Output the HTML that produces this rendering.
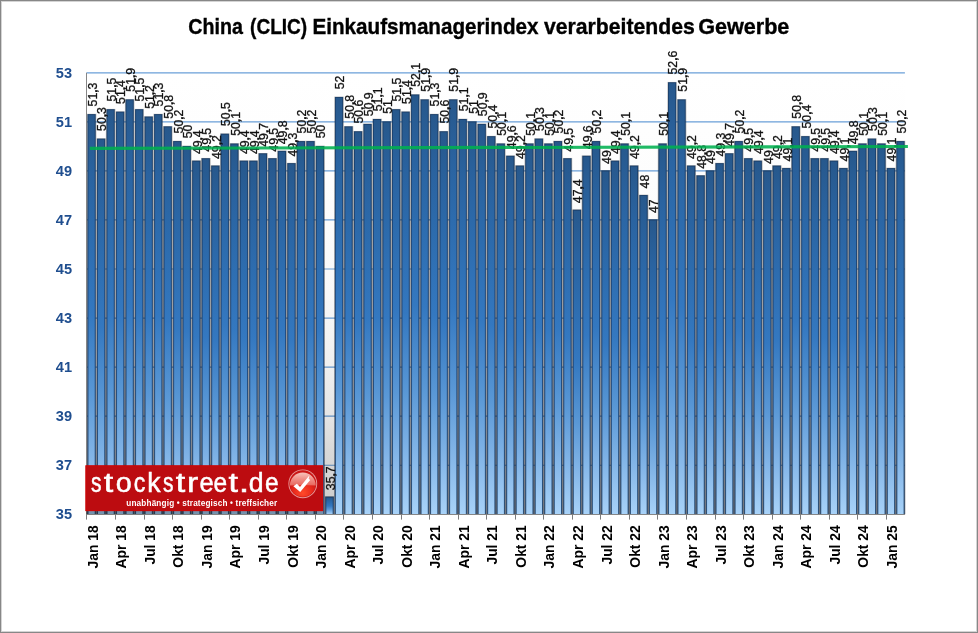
<!DOCTYPE html>
<html><head><meta charset="utf-8"><style>
html,body{margin:0;padding:0;background:#fff}
body{width:978px;height:633px;position:relative;overflow:hidden}
.frame{position:absolute;left:0;top:0;width:976px;height:631px;border:1px solid #878787;box-shadow:inset 0 0 0 1px #d4d4d4}
text{font-family:"Liberation Sans",sans-serif}
.title{font-size:21.3px;font-weight:bold;fill:#000;stroke:#000;stroke-width:0.35px}
.yl{font-size:14.6px;font-weight:bold;fill:#1f4e8f}
.xl{font-size:13.9px;font-weight:bold;fill:#000}
.dl{font-size:12.3px;fill:#111;stroke:#111;stroke-width:0.3px}
.cm{font-weight:bold;font-size:11.8px}
.logo{font-size:27.5px;fill:#fff;stroke:#fff;stroke-width:0.5px}
.sub{font-size:8.2px;font-weight:bold;fill:#fff;letter-spacing:0.16px}
</style></head><body>
<svg width="978" height="633" viewBox="0 0 978 633" style="position:absolute;left:0;top:0">
<defs>
<linearGradient id="bg" x1="0" y1="0" x2="0" y2="1">
<stop offset="0" stop-color="#ffffff"/><stop offset="0.25" stop-color="#fdfdfd"/><stop offset="0.5" stop-color="#f8f8f8"/><stop offset="0.67" stop-color="#efefef"/><stop offset="0.77" stop-color="#e6e6e6"/><stop offset="0.86" stop-color="#d8d8d8"/><stop offset="1" stop-color="#cbcbcb"/></linearGradient>
<linearGradient id="bar" x1="0" y1="0" x2="0" y2="1">
<stop offset="0" stop-color="#27588c"/><stop offset="0.15" stop-color="#2a63a0"/><stop offset="0.3" stop-color="#2d6cae"/><stop offset="0.5" stop-color="#3478c0"/><stop offset="0.7" stop-color="#5a98d6"/><stop offset="0.86" stop-color="#84b6e8"/><stop offset="1" stop-color="#a8d2f8"/></linearGradient>
<linearGradient id="gap" gradientUnits="userSpaceOnUse" x1="0" y1="72" x2="0" y2="514">
<stop offset="0" stop-color="#cacaca"/><stop offset="0.18" stop-color="#a8a8a8"/><stop offset="0.33" stop-color="#8c8c8c"/><stop offset="0.78" stop-color="#6c7078"/><stop offset="1" stop-color="#555a64"/></linearGradient>
<linearGradient id="barE" x1="0" y1="0" x2="0" y2="1">
<stop offset="0" stop-color="#1c416c"/><stop offset="0.5" stop-color="#214c80"/><stop offset="1" stop-color="#2c5078"/></linearGradient>
<radialGradient id="ball" cx="0.5" cy="0.85" r="0.6"><stop offset="0" stop-color="#ff4a2a"/><stop offset="0.6" stop-color="#e82a1c"/><stop offset="1" stop-color="#cc1616"/></radialGradient>
<linearGradient id="gloss" x1="0" y1="0" x2="0" y2="1"><stop offset="0" stop-color="#f7c4bc"/><stop offset="0.5" stop-color="#f09088"/><stop offset="1" stop-color="#e8685e"/></linearGradient>
</defs>
<rect x="86.5" y="72.8" width="818.4" height="441.49999999999994" fill="url(#bg)"/>
<rect x="86.85" y="113.80" width="9.50" height="400.50" fill="url(#gap)"/>
<rect x="96.37" y="138.33" width="9.50" height="375.97" fill="url(#gap)"/>
<rect x="105.88" y="108.89" width="9.50" height="405.41" fill="url(#gap)"/>
<rect x="115.40" y="111.34" width="9.50" height="402.96" fill="url(#gap)"/>
<rect x="124.92" y="99.08" width="9.50" height="415.22" fill="url(#gap)"/>
<rect x="134.43" y="108.89" width="9.50" height="405.41" fill="url(#gap)"/>
<rect x="143.95" y="116.25" width="9.50" height="398.05" fill="url(#gap)"/>
<rect x="153.46" y="113.80" width="9.50" height="400.50" fill="url(#gap)"/>
<rect x="162.98" y="126.06" width="9.50" height="388.24" fill="url(#gap)"/>
<rect x="172.50" y="140.78" width="9.50" height="373.52" fill="url(#gap)"/>
<rect x="182.01" y="145.68" width="9.50" height="368.62" fill="url(#gap)"/>
<rect x="191.53" y="160.40" width="9.50" height="353.90" fill="url(#gap)"/>
<rect x="201.05" y="157.95" width="9.50" height="356.35" fill="url(#gap)"/>
<rect x="210.56" y="165.31" width="9.50" height="348.99" fill="url(#gap)"/>
<rect x="220.08" y="133.42" width="9.50" height="380.88" fill="url(#gap)"/>
<rect x="229.59" y="143.23" width="9.50" height="371.07" fill="url(#gap)"/>
<rect x="239.11" y="160.40" width="9.50" height="353.90" fill="url(#gap)"/>
<rect x="248.63" y="160.40" width="9.50" height="353.90" fill="url(#gap)"/>
<rect x="258.14" y="153.04" width="9.50" height="361.26" fill="url(#gap)"/>
<rect x="267.66" y="157.95" width="9.50" height="356.35" fill="url(#gap)"/>
<rect x="277.18" y="150.59" width="9.50" height="363.71" fill="url(#gap)"/>
<rect x="286.69" y="162.85" width="9.50" height="351.45" fill="url(#gap)"/>
<rect x="296.21" y="140.78" width="9.50" height="373.52" fill="url(#gap)"/>
<rect x="305.72" y="140.78" width="9.50" height="373.52" fill="url(#gap)"/>
<rect x="315.24" y="145.68" width="9.50" height="368.62" fill="url(#gap)"/>
<rect x="324.76" y="496.43" width="9.50" height="17.87" fill="url(#gap)"/>
<rect x="334.27" y="96.63" width="9.50" height="417.67" fill="url(#gap)"/>
<rect x="343.79" y="126.06" width="9.50" height="388.24" fill="url(#gap)"/>
<rect x="353.31" y="130.97" width="9.50" height="383.33" fill="url(#gap)"/>
<rect x="362.82" y="123.61" width="9.50" height="390.69" fill="url(#gap)"/>
<rect x="372.34" y="118.70" width="9.50" height="395.60" fill="url(#gap)"/>
<rect x="381.85" y="121.16" width="9.50" height="393.14" fill="url(#gap)"/>
<rect x="391.37" y="108.89" width="9.50" height="405.41" fill="url(#gap)"/>
<rect x="400.89" y="111.34" width="9.50" height="402.96" fill="url(#gap)"/>
<rect x="410.40" y="94.17" width="9.50" height="420.12" fill="url(#gap)"/>
<rect x="419.92" y="99.08" width="9.50" height="415.22" fill="url(#gap)"/>
<rect x="429.44" y="113.80" width="9.50" height="400.50" fill="url(#gap)"/>
<rect x="438.95" y="130.97" width="9.50" height="383.33" fill="url(#gap)"/>
<rect x="448.47" y="99.08" width="9.50" height="415.22" fill="url(#gap)"/>
<rect x="457.98" y="118.70" width="9.50" height="395.60" fill="url(#gap)"/>
<rect x="467.50" y="121.16" width="9.50" height="393.14" fill="url(#gap)"/>
<rect x="477.02" y="123.61" width="9.50" height="390.69" fill="url(#gap)"/>
<rect x="486.53" y="135.87" width="9.50" height="378.43" fill="url(#gap)"/>
<rect x="496.05" y="143.23" width="9.50" height="371.07" fill="url(#gap)"/>
<rect x="505.57" y="155.49" width="9.50" height="358.81" fill="url(#gap)"/>
<rect x="515.08" y="165.31" width="9.50" height="348.99" fill="url(#gap)"/>
<rect x="524.60" y="143.23" width="9.50" height="371.07" fill="url(#gap)"/>
<rect x="534.12" y="138.33" width="9.50" height="375.97" fill="url(#gap)"/>
<rect x="543.63" y="143.23" width="9.50" height="371.07" fill="url(#gap)"/>
<rect x="553.15" y="140.78" width="9.50" height="373.52" fill="url(#gap)"/>
<rect x="562.66" y="157.95" width="9.50" height="356.35" fill="url(#gap)"/>
<rect x="572.18" y="209.46" width="9.50" height="304.84" fill="url(#gap)"/>
<rect x="581.70" y="155.49" width="9.50" height="358.81" fill="url(#gap)"/>
<rect x="591.21" y="140.78" width="9.50" height="373.52" fill="url(#gap)"/>
<rect x="600.73" y="170.21" width="9.50" height="344.09" fill="url(#gap)"/>
<rect x="610.25" y="160.40" width="9.50" height="353.90" fill="url(#gap)"/>
<rect x="619.76" y="143.23" width="9.50" height="371.07" fill="url(#gap)"/>
<rect x="629.28" y="165.31" width="9.50" height="348.99" fill="url(#gap)"/>
<rect x="638.79" y="194.74" width="9.50" height="319.56" fill="url(#gap)"/>
<rect x="648.31" y="219.27" width="9.50" height="295.03" fill="url(#gap)"/>
<rect x="657.83" y="143.23" width="9.50" height="371.07" fill="url(#gap)"/>
<rect x="667.34" y="81.91" width="9.50" height="432.39" fill="url(#gap)"/>
<rect x="676.86" y="99.08" width="9.50" height="415.22" fill="url(#gap)"/>
<rect x="686.38" y="165.31" width="9.50" height="348.99" fill="url(#gap)"/>
<rect x="695.89" y="175.12" width="9.50" height="339.18" fill="url(#gap)"/>
<rect x="705.41" y="170.21" width="9.50" height="344.09" fill="url(#gap)"/>
<rect x="714.92" y="162.85" width="9.50" height="351.45" fill="url(#gap)"/>
<rect x="724.44" y="153.04" width="9.50" height="361.26" fill="url(#gap)"/>
<rect x="733.96" y="140.78" width="9.50" height="373.52" fill="url(#gap)"/>
<rect x="743.47" y="157.95" width="9.50" height="356.35" fill="url(#gap)"/>
<rect x="752.99" y="160.40" width="9.50" height="353.90" fill="url(#gap)"/>
<rect x="762.51" y="170.21" width="9.50" height="344.09" fill="url(#gap)"/>
<rect x="772.02" y="165.31" width="9.50" height="348.99" fill="url(#gap)"/>
<rect x="781.54" y="167.76" width="9.50" height="346.54" fill="url(#gap)"/>
<rect x="791.05" y="126.06" width="9.50" height="388.24" fill="url(#gap)"/>
<rect x="800.57" y="135.87" width="9.50" height="378.43" fill="url(#gap)"/>
<rect x="810.09" y="157.95" width="9.50" height="356.35" fill="url(#gap)"/>
<rect x="819.60" y="157.95" width="9.50" height="356.35" fill="url(#gap)"/>
<rect x="829.12" y="160.40" width="9.50" height="353.90" fill="url(#gap)"/>
<rect x="838.64" y="167.76" width="9.50" height="346.54" fill="url(#gap)"/>
<rect x="848.15" y="150.59" width="9.50" height="363.71" fill="url(#gap)"/>
<rect x="857.67" y="143.23" width="9.50" height="371.07" fill="url(#gap)"/>
<rect x="867.18" y="138.33" width="9.50" height="375.97" fill="url(#gap)"/>
<rect x="876.70" y="143.23" width="9.50" height="371.07" fill="url(#gap)"/>
<rect x="886.22" y="167.76" width="9.50" height="346.54" fill="url(#gap)"/>
<rect x="895.73" y="140.78" width="9.50" height="373.52" fill="url(#gap)"/>
<line x1="86.5" y1="465.24" x2="904.9" y2="465.24" stroke="#6a9fd8" stroke-width="1.2" style="mix-blend-mode:multiply"/>
<line x1="86.5" y1="416.19" x2="904.9" y2="416.19" stroke="#6a9fd8" stroke-width="1.2" style="mix-blend-mode:multiply"/>
<line x1="86.5" y1="367.13" x2="904.9" y2="367.13" stroke="#6a9fd8" stroke-width="1.2" style="mix-blend-mode:multiply"/>
<line x1="86.5" y1="318.08" x2="904.9" y2="318.08" stroke="#6a9fd8" stroke-width="1.2" style="mix-blend-mode:multiply"/>
<line x1="86.5" y1="269.02" x2="904.9" y2="269.02" stroke="#6a9fd8" stroke-width="1.2" style="mix-blend-mode:multiply"/>
<line x1="86.5" y1="219.97" x2="904.9" y2="219.97" stroke="#6a9fd8" stroke-width="1.2" style="mix-blend-mode:multiply"/>
<line x1="86.5" y1="170.91" x2="904.9" y2="170.91" stroke="#6a9fd8" stroke-width="1.2" style="mix-blend-mode:multiply"/>
<line x1="86.5" y1="121.86" x2="904.9" y2="121.86" stroke="#6a9fd8" stroke-width="1.2" style="mix-blend-mode:multiply"/>
<line x1="86.5" y1="72.80" x2="904.9" y2="72.80" stroke="#6a9fd8" stroke-width="1.2" style="mix-blend-mode:multiply"/>
<rect x="87.50" y="114.10" width="8.20" height="400.20" fill="url(#barE)"/>
<rect x="88.50" y="115.10" width="6.20" height="399.20" fill="url(#bar)"/>
<rect x="97.02" y="138.63" width="8.20" height="375.67" fill="url(#barE)"/>
<rect x="98.02" y="139.63" width="6.20" height="374.67" fill="url(#bar)"/>
<rect x="106.53" y="109.19" width="8.20" height="405.11" fill="url(#barE)"/>
<rect x="107.53" y="110.19" width="6.20" height="404.11" fill="url(#bar)"/>
<rect x="116.05" y="111.64" width="8.20" height="402.66" fill="url(#barE)"/>
<rect x="117.05" y="112.64" width="6.20" height="401.66" fill="url(#bar)"/>
<rect x="125.57" y="99.38" width="8.20" height="414.92" fill="url(#barE)"/>
<rect x="126.57" y="100.38" width="6.20" height="413.92" fill="url(#bar)"/>
<rect x="135.08" y="109.19" width="8.20" height="405.11" fill="url(#barE)"/>
<rect x="136.08" y="110.19" width="6.20" height="404.11" fill="url(#bar)"/>
<rect x="144.60" y="116.55" width="8.20" height="397.75" fill="url(#barE)"/>
<rect x="145.60" y="117.55" width="6.20" height="396.75" fill="url(#bar)"/>
<rect x="154.11" y="114.10" width="8.20" height="400.20" fill="url(#barE)"/>
<rect x="155.11" y="115.10" width="6.20" height="399.20" fill="url(#bar)"/>
<rect x="163.63" y="126.36" width="8.20" height="387.94" fill="url(#barE)"/>
<rect x="164.63" y="127.36" width="6.20" height="386.94" fill="url(#bar)"/>
<rect x="173.15" y="141.08" width="8.20" height="373.22" fill="url(#barE)"/>
<rect x="174.15" y="142.08" width="6.20" height="372.22" fill="url(#bar)"/>
<rect x="182.66" y="145.98" width="8.20" height="368.32" fill="url(#barE)"/>
<rect x="183.66" y="146.98" width="6.20" height="367.32" fill="url(#bar)"/>
<rect x="192.18" y="160.70" width="8.20" height="353.60" fill="url(#barE)"/>
<rect x="193.18" y="161.70" width="6.20" height="352.60" fill="url(#bar)"/>
<rect x="201.70" y="158.25" width="8.20" height="356.05" fill="url(#barE)"/>
<rect x="202.70" y="159.25" width="6.20" height="355.05" fill="url(#bar)"/>
<rect x="211.21" y="165.61" width="8.20" height="348.69" fill="url(#barE)"/>
<rect x="212.21" y="166.61" width="6.20" height="347.69" fill="url(#bar)"/>
<rect x="220.73" y="133.72" width="8.20" height="380.58" fill="url(#barE)"/>
<rect x="221.73" y="134.72" width="6.20" height="379.58" fill="url(#bar)"/>
<rect x="230.24" y="143.53" width="8.20" height="370.77" fill="url(#barE)"/>
<rect x="231.24" y="144.53" width="6.20" height="369.77" fill="url(#bar)"/>
<rect x="239.76" y="160.70" width="8.20" height="353.60" fill="url(#barE)"/>
<rect x="240.76" y="161.70" width="6.20" height="352.60" fill="url(#bar)"/>
<rect x="249.28" y="160.70" width="8.20" height="353.60" fill="url(#barE)"/>
<rect x="250.28" y="161.70" width="6.20" height="352.60" fill="url(#bar)"/>
<rect x="258.79" y="153.34" width="8.20" height="360.96" fill="url(#barE)"/>
<rect x="259.79" y="154.34" width="6.20" height="359.96" fill="url(#bar)"/>
<rect x="268.31" y="158.25" width="8.20" height="356.05" fill="url(#barE)"/>
<rect x="269.31" y="159.25" width="6.20" height="355.05" fill="url(#bar)"/>
<rect x="277.83" y="150.89" width="8.20" height="363.41" fill="url(#barE)"/>
<rect x="278.83" y="151.89" width="6.20" height="362.41" fill="url(#bar)"/>
<rect x="287.34" y="163.15" width="8.20" height="351.15" fill="url(#barE)"/>
<rect x="288.34" y="164.15" width="6.20" height="350.15" fill="url(#bar)"/>
<rect x="296.86" y="141.08" width="8.20" height="373.22" fill="url(#barE)"/>
<rect x="297.86" y="142.08" width="6.20" height="372.22" fill="url(#bar)"/>
<rect x="306.37" y="141.08" width="8.20" height="373.22" fill="url(#barE)"/>
<rect x="307.37" y="142.08" width="6.20" height="372.22" fill="url(#bar)"/>
<rect x="315.89" y="145.98" width="8.20" height="368.32" fill="url(#barE)"/>
<rect x="316.89" y="146.98" width="6.20" height="367.32" fill="url(#bar)"/>
<rect x="325.41" y="496.73" width="8.20" height="17.57" fill="url(#barE)"/>
<rect x="326.41" y="497.73" width="6.20" height="16.57" fill="url(#bar)"/>
<rect x="334.92" y="96.93" width="8.20" height="417.37" fill="url(#barE)"/>
<rect x="335.92" y="97.93" width="6.20" height="416.37" fill="url(#bar)"/>
<rect x="344.44" y="126.36" width="8.20" height="387.94" fill="url(#barE)"/>
<rect x="345.44" y="127.36" width="6.20" height="386.94" fill="url(#bar)"/>
<rect x="353.96" y="131.27" width="8.20" height="383.03" fill="url(#barE)"/>
<rect x="354.96" y="132.27" width="6.20" height="382.03" fill="url(#bar)"/>
<rect x="363.47" y="123.91" width="8.20" height="390.39" fill="url(#barE)"/>
<rect x="364.47" y="124.91" width="6.20" height="389.39" fill="url(#bar)"/>
<rect x="372.99" y="119.00" width="8.20" height="395.30" fill="url(#barE)"/>
<rect x="373.99" y="120.00" width="6.20" height="394.30" fill="url(#bar)"/>
<rect x="382.50" y="121.46" width="8.20" height="392.84" fill="url(#barE)"/>
<rect x="383.50" y="122.46" width="6.20" height="391.84" fill="url(#bar)"/>
<rect x="392.02" y="109.19" width="8.20" height="405.11" fill="url(#barE)"/>
<rect x="393.02" y="110.19" width="6.20" height="404.11" fill="url(#bar)"/>
<rect x="401.54" y="111.64" width="8.20" height="402.66" fill="url(#barE)"/>
<rect x="402.54" y="112.64" width="6.20" height="401.66" fill="url(#bar)"/>
<rect x="411.05" y="94.47" width="8.20" height="419.82" fill="url(#barE)"/>
<rect x="412.05" y="95.47" width="6.20" height="418.82" fill="url(#bar)"/>
<rect x="420.57" y="99.38" width="8.20" height="414.92" fill="url(#barE)"/>
<rect x="421.57" y="100.38" width="6.20" height="413.92" fill="url(#bar)"/>
<rect x="430.09" y="114.10" width="8.20" height="400.20" fill="url(#barE)"/>
<rect x="431.09" y="115.10" width="6.20" height="399.20" fill="url(#bar)"/>
<rect x="439.60" y="131.27" width="8.20" height="383.03" fill="url(#barE)"/>
<rect x="440.60" y="132.27" width="6.20" height="382.03" fill="url(#bar)"/>
<rect x="449.12" y="99.38" width="8.20" height="414.92" fill="url(#barE)"/>
<rect x="450.12" y="100.38" width="6.20" height="413.92" fill="url(#bar)"/>
<rect x="458.63" y="119.00" width="8.20" height="395.30" fill="url(#barE)"/>
<rect x="459.63" y="120.00" width="6.20" height="394.30" fill="url(#bar)"/>
<rect x="468.15" y="121.46" width="8.20" height="392.84" fill="url(#barE)"/>
<rect x="469.15" y="122.46" width="6.20" height="391.84" fill="url(#bar)"/>
<rect x="477.67" y="123.91" width="8.20" height="390.39" fill="url(#barE)"/>
<rect x="478.67" y="124.91" width="6.20" height="389.39" fill="url(#bar)"/>
<rect x="487.18" y="136.17" width="8.20" height="378.13" fill="url(#barE)"/>
<rect x="488.18" y="137.17" width="6.20" height="377.13" fill="url(#bar)"/>
<rect x="496.70" y="143.53" width="8.20" height="370.77" fill="url(#barE)"/>
<rect x="497.70" y="144.53" width="6.20" height="369.77" fill="url(#bar)"/>
<rect x="506.22" y="155.79" width="8.20" height="358.51" fill="url(#barE)"/>
<rect x="507.22" y="156.79" width="6.20" height="357.51" fill="url(#bar)"/>
<rect x="515.73" y="165.61" width="8.20" height="348.69" fill="url(#barE)"/>
<rect x="516.73" y="166.61" width="6.20" height="347.69" fill="url(#bar)"/>
<rect x="525.25" y="143.53" width="8.20" height="370.77" fill="url(#barE)"/>
<rect x="526.25" y="144.53" width="6.20" height="369.77" fill="url(#bar)"/>
<rect x="534.77" y="138.63" width="8.20" height="375.67" fill="url(#barE)"/>
<rect x="535.77" y="139.63" width="6.20" height="374.67" fill="url(#bar)"/>
<rect x="544.28" y="143.53" width="8.20" height="370.77" fill="url(#barE)"/>
<rect x="545.28" y="144.53" width="6.20" height="369.77" fill="url(#bar)"/>
<rect x="553.80" y="141.08" width="8.20" height="373.22" fill="url(#barE)"/>
<rect x="554.80" y="142.08" width="6.20" height="372.22" fill="url(#bar)"/>
<rect x="563.31" y="158.25" width="8.20" height="356.05" fill="url(#barE)"/>
<rect x="564.31" y="159.25" width="6.20" height="355.05" fill="url(#bar)"/>
<rect x="572.83" y="209.76" width="8.20" height="304.54" fill="url(#barE)"/>
<rect x="573.83" y="210.76" width="6.20" height="303.54" fill="url(#bar)"/>
<rect x="582.35" y="155.79" width="8.20" height="358.51" fill="url(#barE)"/>
<rect x="583.35" y="156.79" width="6.20" height="357.51" fill="url(#bar)"/>
<rect x="591.86" y="141.08" width="8.20" height="373.22" fill="url(#barE)"/>
<rect x="592.86" y="142.08" width="6.20" height="372.22" fill="url(#bar)"/>
<rect x="601.38" y="170.51" width="8.20" height="343.79" fill="url(#barE)"/>
<rect x="602.38" y="171.51" width="6.20" height="342.79" fill="url(#bar)"/>
<rect x="610.90" y="160.70" width="8.20" height="353.60" fill="url(#barE)"/>
<rect x="611.90" y="161.70" width="6.20" height="352.60" fill="url(#bar)"/>
<rect x="620.41" y="143.53" width="8.20" height="370.77" fill="url(#barE)"/>
<rect x="621.41" y="144.53" width="6.20" height="369.77" fill="url(#bar)"/>
<rect x="629.93" y="165.61" width="8.20" height="348.69" fill="url(#barE)"/>
<rect x="630.93" y="166.61" width="6.20" height="347.69" fill="url(#bar)"/>
<rect x="639.44" y="195.04" width="8.20" height="319.26" fill="url(#barE)"/>
<rect x="640.44" y="196.04" width="6.20" height="318.26" fill="url(#bar)"/>
<rect x="648.96" y="219.57" width="8.20" height="294.73" fill="url(#barE)"/>
<rect x="649.96" y="220.57" width="6.20" height="293.73" fill="url(#bar)"/>
<rect x="658.48" y="143.53" width="8.20" height="370.77" fill="url(#barE)"/>
<rect x="659.48" y="144.53" width="6.20" height="369.77" fill="url(#bar)"/>
<rect x="667.99" y="82.21" width="8.20" height="432.09" fill="url(#barE)"/>
<rect x="668.99" y="83.21" width="6.20" height="431.09" fill="url(#bar)"/>
<rect x="677.51" y="99.38" width="8.20" height="414.92" fill="url(#barE)"/>
<rect x="678.51" y="100.38" width="6.20" height="413.92" fill="url(#bar)"/>
<rect x="687.03" y="165.61" width="8.20" height="348.69" fill="url(#barE)"/>
<rect x="688.03" y="166.61" width="6.20" height="347.69" fill="url(#bar)"/>
<rect x="696.54" y="175.42" width="8.20" height="338.88" fill="url(#barE)"/>
<rect x="697.54" y="176.42" width="6.20" height="337.88" fill="url(#bar)"/>
<rect x="706.06" y="170.51" width="8.20" height="343.79" fill="url(#barE)"/>
<rect x="707.06" y="171.51" width="6.20" height="342.79" fill="url(#bar)"/>
<rect x="715.57" y="163.15" width="8.20" height="351.15" fill="url(#barE)"/>
<rect x="716.57" y="164.15" width="6.20" height="350.15" fill="url(#bar)"/>
<rect x="725.09" y="153.34" width="8.20" height="360.96" fill="url(#barE)"/>
<rect x="726.09" y="154.34" width="6.20" height="359.96" fill="url(#bar)"/>
<rect x="734.61" y="141.08" width="8.20" height="373.22" fill="url(#barE)"/>
<rect x="735.61" y="142.08" width="6.20" height="372.22" fill="url(#bar)"/>
<rect x="744.12" y="158.25" width="8.20" height="356.05" fill="url(#barE)"/>
<rect x="745.12" y="159.25" width="6.20" height="355.05" fill="url(#bar)"/>
<rect x="753.64" y="160.70" width="8.20" height="353.60" fill="url(#barE)"/>
<rect x="754.64" y="161.70" width="6.20" height="352.60" fill="url(#bar)"/>
<rect x="763.16" y="170.51" width="8.20" height="343.79" fill="url(#barE)"/>
<rect x="764.16" y="171.51" width="6.20" height="342.79" fill="url(#bar)"/>
<rect x="772.67" y="165.61" width="8.20" height="348.69" fill="url(#barE)"/>
<rect x="773.67" y="166.61" width="6.20" height="347.69" fill="url(#bar)"/>
<rect x="782.19" y="168.06" width="8.20" height="346.24" fill="url(#barE)"/>
<rect x="783.19" y="169.06" width="6.20" height="345.24" fill="url(#bar)"/>
<rect x="791.70" y="126.36" width="8.20" height="387.94" fill="url(#barE)"/>
<rect x="792.70" y="127.36" width="6.20" height="386.94" fill="url(#bar)"/>
<rect x="801.22" y="136.17" width="8.20" height="378.13" fill="url(#barE)"/>
<rect x="802.22" y="137.17" width="6.20" height="377.13" fill="url(#bar)"/>
<rect x="810.74" y="158.25" width="8.20" height="356.05" fill="url(#barE)"/>
<rect x="811.74" y="159.25" width="6.20" height="355.05" fill="url(#bar)"/>
<rect x="820.25" y="158.25" width="8.20" height="356.05" fill="url(#barE)"/>
<rect x="821.25" y="159.25" width="6.20" height="355.05" fill="url(#bar)"/>
<rect x="829.77" y="160.70" width="8.20" height="353.60" fill="url(#barE)"/>
<rect x="830.77" y="161.70" width="6.20" height="352.60" fill="url(#bar)"/>
<rect x="839.29" y="168.06" width="8.20" height="346.24" fill="url(#barE)"/>
<rect x="840.29" y="169.06" width="6.20" height="345.24" fill="url(#bar)"/>
<rect x="848.80" y="150.89" width="8.20" height="363.41" fill="url(#barE)"/>
<rect x="849.80" y="151.89" width="6.20" height="362.41" fill="url(#bar)"/>
<rect x="858.32" y="143.53" width="8.20" height="370.77" fill="url(#barE)"/>
<rect x="859.32" y="144.53" width="6.20" height="369.77" fill="url(#bar)"/>
<rect x="867.83" y="138.63" width="8.20" height="375.67" fill="url(#barE)"/>
<rect x="868.83" y="139.63" width="6.20" height="374.67" fill="url(#bar)"/>
<rect x="877.35" y="143.53" width="8.20" height="370.77" fill="url(#barE)"/>
<rect x="878.35" y="144.53" width="6.20" height="369.77" fill="url(#bar)"/>
<rect x="886.87" y="168.06" width="8.20" height="346.24" fill="url(#barE)"/>
<rect x="887.87" y="169.06" width="6.20" height="345.24" fill="url(#bar)"/>
<rect x="896.38" y="141.08" width="8.20" height="373.22" fill="url(#barE)"/>
<rect x="897.38" y="142.08" width="6.20" height="372.22" fill="url(#bar)"/>
<line x1="86.5" y1="72.8" x2="86.5" y2="514.3" stroke="#868686" stroke-width="1"/>
<line x1="86.0" y1="514.5" x2="904.9" y2="514.5" stroke="#868686" stroke-width="1"/>
<line x1="86.50" y1="514" x2="86.50" y2="519.6" stroke="#7c7c7c" stroke-width="1"/>
<line x1="115.50" y1="514" x2="115.50" y2="519.6" stroke="#7c7c7c" stroke-width="1"/>
<line x1="144.50" y1="514" x2="144.50" y2="519.6" stroke="#7c7c7c" stroke-width="1"/>
<line x1="172.50" y1="514" x2="172.50" y2="519.6" stroke="#7c7c7c" stroke-width="1"/>
<line x1="201.50" y1="514" x2="201.50" y2="519.6" stroke="#7c7c7c" stroke-width="1"/>
<line x1="229.50" y1="514" x2="229.50" y2="519.6" stroke="#7c7c7c" stroke-width="1"/>
<line x1="258.50" y1="514" x2="258.50" y2="519.6" stroke="#7c7c7c" stroke-width="1"/>
<line x1="286.50" y1="514" x2="286.50" y2="519.6" stroke="#7c7c7c" stroke-width="1"/>
<line x1="315.50" y1="514" x2="315.50" y2="519.6" stroke="#7c7c7c" stroke-width="1"/>
<line x1="343.50" y1="514" x2="343.50" y2="519.6" stroke="#7c7c7c" stroke-width="1"/>
<line x1="372.50" y1="514" x2="372.50" y2="519.6" stroke="#7c7c7c" stroke-width="1"/>
<line x1="401.50" y1="514" x2="401.50" y2="519.6" stroke="#7c7c7c" stroke-width="1"/>
<line x1="429.50" y1="514" x2="429.50" y2="519.6" stroke="#7c7c7c" stroke-width="1"/>
<line x1="458.50" y1="514" x2="458.50" y2="519.6" stroke="#7c7c7c" stroke-width="1"/>
<line x1="486.50" y1="514" x2="486.50" y2="519.6" stroke="#7c7c7c" stroke-width="1"/>
<line x1="515.50" y1="514" x2="515.50" y2="519.6" stroke="#7c7c7c" stroke-width="1"/>
<line x1="543.50" y1="514" x2="543.50" y2="519.6" stroke="#7c7c7c" stroke-width="1"/>
<line x1="572.50" y1="514" x2="572.50" y2="519.6" stroke="#7c7c7c" stroke-width="1"/>
<line x1="600.50" y1="514" x2="600.50" y2="519.6" stroke="#7c7c7c" stroke-width="1"/>
<line x1="629.50" y1="514" x2="629.50" y2="519.6" stroke="#7c7c7c" stroke-width="1"/>
<line x1="657.50" y1="514" x2="657.50" y2="519.6" stroke="#7c7c7c" stroke-width="1"/>
<line x1="686.50" y1="514" x2="686.50" y2="519.6" stroke="#7c7c7c" stroke-width="1"/>
<line x1="715.50" y1="514" x2="715.50" y2="519.6" stroke="#7c7c7c" stroke-width="1"/>
<line x1="743.50" y1="514" x2="743.50" y2="519.6" stroke="#7c7c7c" stroke-width="1"/>
<line x1="772.50" y1="514" x2="772.50" y2="519.6" stroke="#7c7c7c" stroke-width="1"/>
<line x1="800.50" y1="514" x2="800.50" y2="519.6" stroke="#7c7c7c" stroke-width="1"/>
<line x1="829.50" y1="514" x2="829.50" y2="519.6" stroke="#7c7c7c" stroke-width="1"/>
<line x1="857.50" y1="514" x2="857.50" y2="519.6" stroke="#7c7c7c" stroke-width="1"/>
<line x1="886.50" y1="514" x2="886.50" y2="519.6" stroke="#7c7c7c" stroke-width="1"/>
<text x="72.1" y="519.30" text-anchor="end" class="yl">35</text>
<text x="72.1" y="470.24" text-anchor="end" class="yl">37</text>
<text x="72.1" y="421.19" text-anchor="end" class="yl">39</text>
<text x="72.1" y="372.13" text-anchor="end" class="yl">41</text>
<text x="72.1" y="323.08" text-anchor="end" class="yl">43</text>
<text x="72.1" y="274.02" text-anchor="end" class="yl">45</text>
<text x="72.1" y="224.97" text-anchor="end" class="yl">47</text>
<text x="72.1" y="175.91" text-anchor="end" class="yl">49</text>
<text x="72.1" y="126.86" text-anchor="end" class="yl">51</text>
<text x="72.1" y="77.80" text-anchor="end" class="yl">53</text>
<text transform="translate(97.66,525.2) rotate(-90)" text-anchor="end" class="xl">Jan 18</text>
<text transform="translate(126.21,525.2) rotate(-90)" text-anchor="end" class="xl">Apr 18</text>
<text transform="translate(154.76,525.2) rotate(-90)" text-anchor="end" class="xl">Jul 18</text>
<text transform="translate(183.30,525.2) rotate(-90)" text-anchor="end" class="xl">Okt 18</text>
<text transform="translate(211.85,525.2) rotate(-90)" text-anchor="end" class="xl">Jan 19</text>
<text transform="translate(240.40,525.2) rotate(-90)" text-anchor="end" class="xl">Apr 19</text>
<text transform="translate(268.95,525.2) rotate(-90)" text-anchor="end" class="xl">Jul 19</text>
<text transform="translate(297.50,525.2) rotate(-90)" text-anchor="end" class="xl">Okt 19</text>
<text transform="translate(326.05,525.2) rotate(-90)" text-anchor="end" class="xl">Jan 20</text>
<text transform="translate(354.60,525.2) rotate(-90)" text-anchor="end" class="xl">Apr 20</text>
<text transform="translate(383.15,525.2) rotate(-90)" text-anchor="end" class="xl">Jul 20</text>
<text transform="translate(411.70,525.2) rotate(-90)" text-anchor="end" class="xl">Okt 20</text>
<text transform="translate(440.24,525.2) rotate(-90)" text-anchor="end" class="xl">Jan 21</text>
<text transform="translate(468.79,525.2) rotate(-90)" text-anchor="end" class="xl">Apr 21</text>
<text transform="translate(497.34,525.2) rotate(-90)" text-anchor="end" class="xl">Jul 21</text>
<text transform="translate(525.89,525.2) rotate(-90)" text-anchor="end" class="xl">Okt 21</text>
<text transform="translate(554.44,525.2) rotate(-90)" text-anchor="end" class="xl">Jan 22</text>
<text transform="translate(582.99,525.2) rotate(-90)" text-anchor="end" class="xl">Apr 22</text>
<text transform="translate(611.54,525.2) rotate(-90)" text-anchor="end" class="xl">Jul 22</text>
<text transform="translate(640.09,525.2) rotate(-90)" text-anchor="end" class="xl">Okt 22</text>
<text transform="translate(668.63,525.2) rotate(-90)" text-anchor="end" class="xl">Jan 23</text>
<text transform="translate(697.18,525.2) rotate(-90)" text-anchor="end" class="xl">Apr 23</text>
<text transform="translate(725.73,525.2) rotate(-90)" text-anchor="end" class="xl">Jul 23</text>
<text transform="translate(754.28,525.2) rotate(-90)" text-anchor="end" class="xl">Okt 23</text>
<text transform="translate(782.83,525.2) rotate(-90)" text-anchor="end" class="xl">Jan 24</text>
<text transform="translate(811.38,525.2) rotate(-90)" text-anchor="end" class="xl">Apr 24</text>
<text transform="translate(839.93,525.2) rotate(-90)" text-anchor="end" class="xl">Jul 24</text>
<text transform="translate(868.48,525.2) rotate(-90)" text-anchor="end" class="xl">Okt 24</text>
<text transform="translate(897.03,525.2) rotate(-90)" text-anchor="end" class="xl">Jan 25</text>
<text transform="translate(96.86,106.40) rotate(-90)" class="dl">51<tspan class="cm">,</tspan>3</text>
<text transform="translate(106.37,130.93) rotate(-90)" class="dl">50<tspan class="cm">,</tspan>3</text>
<text transform="translate(115.89,101.49) rotate(-90)" class="dl">51<tspan class="cm">,</tspan>5</text>
<text transform="translate(125.41,103.94) rotate(-90)" class="dl">51<tspan class="cm">,</tspan>4</text>
<text transform="translate(134.92,91.68) rotate(-90)" class="dl">51<tspan class="cm">,</tspan>9</text>
<text transform="translate(144.44,101.49) rotate(-90)" class="dl">51<tspan class="cm">,</tspan>5</text>
<text transform="translate(153.96,108.85) rotate(-90)" class="dl">51<tspan class="cm">,</tspan>2</text>
<text transform="translate(163.47,106.40) rotate(-90)" class="dl">51<tspan class="cm">,</tspan>3</text>
<text transform="translate(172.99,118.66) rotate(-90)" class="dl">50<tspan class="cm">,</tspan>8</text>
<text transform="translate(182.50,133.38) rotate(-90)" class="dl">50<tspan class="cm">,</tspan>2</text>
<text transform="translate(192.02,138.28) rotate(-90)" class="dl">50</text>
<text transform="translate(201.54,154.10) rotate(-90)" class="dl">49<tspan class="cm">,</tspan>4</text>
<text transform="translate(211.05,151.65) rotate(-90)" class="dl">49<tspan class="cm">,</tspan>5</text>
<text transform="translate(220.57,159.01) rotate(-90)" class="dl">49<tspan class="cm">,</tspan>2</text>
<text transform="translate(230.09,126.02) rotate(-90)" class="dl">50<tspan class="cm">,</tspan>5</text>
<text transform="translate(239.60,135.83) rotate(-90)" class="dl">50<tspan class="cm">,</tspan>1</text>
<text transform="translate(249.12,154.10) rotate(-90)" class="dl">49<tspan class="cm">,</tspan>4</text>
<text transform="translate(258.63,154.10) rotate(-90)" class="dl">49<tspan class="cm">,</tspan>4</text>
<text transform="translate(268.15,146.74) rotate(-90)" class="dl">49<tspan class="cm">,</tspan>7</text>
<text transform="translate(277.67,151.65) rotate(-90)" class="dl">49<tspan class="cm">,</tspan>5</text>
<text transform="translate(287.18,144.29) rotate(-90)" class="dl">49<tspan class="cm">,</tspan>8</text>
<text transform="translate(296.70,156.55) rotate(-90)" class="dl">49<tspan class="cm">,</tspan>3</text>
<text transform="translate(306.22,133.38) rotate(-90)" class="dl">50<tspan class="cm">,</tspan>2</text>
<text transform="translate(315.73,133.38) rotate(-90)" class="dl">50<tspan class="cm">,</tspan>2</text>
<text transform="translate(325.25,138.28) rotate(-90)" class="dl">50</text>
<text transform="translate(334.77,490.13) rotate(-90)" class="dl">35<tspan class="cm">,</tspan>7</text>
<text transform="translate(344.28,89.23) rotate(-90)" class="dl">52</text>
<text transform="translate(353.80,118.66) rotate(-90)" class="dl">50<tspan class="cm">,</tspan>8</text>
<text transform="translate(363.31,123.57) rotate(-90)" class="dl">50<tspan class="cm">,</tspan>6</text>
<text transform="translate(372.83,116.21) rotate(-90)" class="dl">50<tspan class="cm">,</tspan>9</text>
<text transform="translate(382.35,111.30) rotate(-90)" class="dl">51<tspan class="cm">,</tspan>1</text>
<text transform="translate(391.86,113.76) rotate(-90)" class="dl">51</text>
<text transform="translate(401.38,101.49) rotate(-90)" class="dl">51<tspan class="cm">,</tspan>5</text>
<text transform="translate(410.90,103.94) rotate(-90)" class="dl">51<tspan class="cm">,</tspan>4</text>
<text transform="translate(420.41,86.77) rotate(-90)" class="dl">52<tspan class="cm">,</tspan>1</text>
<text transform="translate(429.93,91.68) rotate(-90)" class="dl">51<tspan class="cm">,</tspan>9</text>
<text transform="translate(439.44,106.40) rotate(-90)" class="dl">51<tspan class="cm">,</tspan>3</text>
<text transform="translate(448.96,123.57) rotate(-90)" class="dl">50<tspan class="cm">,</tspan>6</text>
<text transform="translate(458.48,91.68) rotate(-90)" class="dl">51<tspan class="cm">,</tspan>9</text>
<text transform="translate(467.99,111.30) rotate(-90)" class="dl">51<tspan class="cm">,</tspan>1</text>
<text transform="translate(477.51,113.76) rotate(-90)" class="dl">51</text>
<text transform="translate(487.03,116.21) rotate(-90)" class="dl">50<tspan class="cm">,</tspan>9</text>
<text transform="translate(496.54,128.47) rotate(-90)" class="dl">50<tspan class="cm">,</tspan>4</text>
<text transform="translate(506.06,135.83) rotate(-90)" class="dl">50<tspan class="cm">,</tspan>1</text>
<text transform="translate(515.57,149.19) rotate(-90)" class="dl">49<tspan class="cm">,</tspan>6</text>
<text transform="translate(525.09,159.01) rotate(-90)" class="dl">49<tspan class="cm">,</tspan>2</text>
<text transform="translate(534.61,135.83) rotate(-90)" class="dl">50<tspan class="cm">,</tspan>1</text>
<text transform="translate(544.12,130.93) rotate(-90)" class="dl">50<tspan class="cm">,</tspan>3</text>
<text transform="translate(553.64,135.83) rotate(-90)" class="dl">50<tspan class="cm">,</tspan>1</text>
<text transform="translate(563.16,133.38) rotate(-90)" class="dl">50<tspan class="cm">,</tspan>2</text>
<text transform="translate(572.67,151.65) rotate(-90)" class="dl">49<tspan class="cm">,</tspan>5</text>
<text transform="translate(582.19,203.16) rotate(-90)" class="dl">47<tspan class="cm">,</tspan>4</text>
<text transform="translate(591.70,149.19) rotate(-90)" class="dl">49<tspan class="cm">,</tspan>6</text>
<text transform="translate(601.22,133.38) rotate(-90)" class="dl">50<tspan class="cm">,</tspan>2</text>
<text transform="translate(610.74,163.91) rotate(-90)" class="dl">49</text>
<text transform="translate(620.25,154.10) rotate(-90)" class="dl">49<tspan class="cm">,</tspan>4</text>
<text transform="translate(629.77,135.83) rotate(-90)" class="dl">50<tspan class="cm">,</tspan>1</text>
<text transform="translate(639.29,159.01) rotate(-90)" class="dl">49<tspan class="cm">,</tspan>2</text>
<text transform="translate(648.80,188.44) rotate(-90)" class="dl">48</text>
<text transform="translate(658.32,212.97) rotate(-90)" class="dl">47</text>
<text transform="translate(667.83,135.83) rotate(-90)" class="dl">50<tspan class="cm">,</tspan>1</text>
<text transform="translate(677.35,74.51) rotate(-90)" class="dl">52<tspan class="cm">,</tspan>6</text>
<text transform="translate(686.87,91.68) rotate(-90)" class="dl">51<tspan class="cm">,</tspan>9</text>
<text transform="translate(696.38,159.01) rotate(-90)" class="dl">49<tspan class="cm">,</tspan>2</text>
<text transform="translate(705.90,168.82) rotate(-90)" class="dl">48<tspan class="cm">,</tspan>8</text>
<text transform="translate(715.42,163.91) rotate(-90)" class="dl">49</text>
<text transform="translate(724.93,156.55) rotate(-90)" class="dl">49<tspan class="cm">,</tspan>3</text>
<text transform="translate(734.45,146.74) rotate(-90)" class="dl">49<tspan class="cm">,</tspan>7</text>
<text transform="translate(743.97,133.38) rotate(-90)" class="dl">50<tspan class="cm">,</tspan>2</text>
<text transform="translate(753.48,151.65) rotate(-90)" class="dl">49<tspan class="cm">,</tspan>5</text>
<text transform="translate(763.00,154.10) rotate(-90)" class="dl">49<tspan class="cm">,</tspan>4</text>
<text transform="translate(772.51,163.91) rotate(-90)" class="dl">49</text>
<text transform="translate(782.03,159.01) rotate(-90)" class="dl">49<tspan class="cm">,</tspan>2</text>
<text transform="translate(791.55,161.46) rotate(-90)" class="dl">49<tspan class="cm">,</tspan>1</text>
<text transform="translate(801.06,118.66) rotate(-90)" class="dl">50<tspan class="cm">,</tspan>8</text>
<text transform="translate(810.58,128.47) rotate(-90)" class="dl">50<tspan class="cm">,</tspan>4</text>
<text transform="translate(820.10,151.65) rotate(-90)" class="dl">49<tspan class="cm">,</tspan>5</text>
<text transform="translate(829.61,151.65) rotate(-90)" class="dl">49<tspan class="cm">,</tspan>5</text>
<text transform="translate(839.13,154.10) rotate(-90)" class="dl">49<tspan class="cm">,</tspan>4</text>
<text transform="translate(848.64,161.46) rotate(-90)" class="dl">49<tspan class="cm">,</tspan>1</text>
<text transform="translate(858.16,144.29) rotate(-90)" class="dl">49<tspan class="cm">,</tspan>8</text>
<text transform="translate(867.68,135.83) rotate(-90)" class="dl">50<tspan class="cm">,</tspan>1</text>
<text transform="translate(877.19,130.93) rotate(-90)" class="dl">50<tspan class="cm">,</tspan>3</text>
<text transform="translate(886.71,135.83) rotate(-90)" class="dl">50<tspan class="cm">,</tspan>1</text>
<text transform="translate(896.23,161.46) rotate(-90)" class="dl">49<tspan class="cm">,</tspan>1</text>
<text transform="translate(905.74,133.38) rotate(-90)" class="dl">50<tspan class="cm">,</tspan>2</text>
<line x1="89.8" y1="148.4" x2="907.9" y2="146.5" stroke="#00b050" stroke-width="3.1" stroke-opacity="0.88"/>
<rect x="86" y="511.1" width="237" height="3" fill="#000" fill-opacity="0.3"/><rect x="85.5" y="465.4" width="237.6" height="45.7" fill="#bc0c10"/><rect x="86" y="465.9" width="236.6" height="44.7" fill="none" stroke="#cf0606" stroke-width="1"/>
<text transform="translate(90.97,492.2) scale(0.765,1)" class="logo">s</text>
<text transform="translate(103.84,492.2) scale(1.241,1)" class="logo">t</text>
<text transform="translate(115.63,492.2) scale(1.047,1)" class="logo">o</text>
<text transform="translate(133.66,492.2) scale(0.846,1)" class="logo">c</text>
<text transform="translate(147.16,492.2) scale(0.967,1)" class="logo">k</text>
<text transform="translate(162.97,492.2) scale(0.765,1)" class="logo">s</text>
<text transform="translate(175.84,492.2) scale(1.241,1)" class="logo">t</text>
<text transform="translate(186.88,492.2) scale(1.222,1)" class="logo">r</text>
<text transform="translate(199.56,492.2) scale(0.928,1)" class="logo">e</text>
<text transform="translate(213.41,492.2) scale(0.89,1)" class="logo">e</text>
<text transform="translate(228.44,492.2) scale(1.241,1)" class="logo">t</text>
<text transform="translate(238.64,492.2) scale(1.378,1)" class="logo">.</text>
<text transform="translate(248.72,492.2) scale(0.97,1)" class="logo">d</text>
<text transform="translate(264.91,492.2) scale(0.89,1)" class="logo">e</text>
<text x="126.3" y="505.5" class="sub">unabhängig • strategisch • treffsicher</text>
<circle cx="302.8" cy="483.8" r="14.4" fill="#e89a98"/>
<circle cx="302.8" cy="483.8" r="13.5" fill="#c81414"/>
<circle cx="302.8" cy="483.8" r="12.9" fill="url(#ball)"/>
<path d="M289.9 485.4 A12.9 12.9 0 0 1 315.7 485.4 Q302.8 484.6 289.9 485.4 Z" fill="url(#gloss)"/>
<path d="M293.4 486.3 L296.9 483.8 L300.0 487.0 L309.3 475.6 L308.7 478.8 L310.2 480.0 L300.2 492.0 Z" fill="#ffffff"/>
<text transform="translate(188.21,33.5) scale(0.9235,1)" class="title">China</text>
<text transform="translate(250.05,33.5) scale(0.8952,1)" class="title">(CLIC)</text>
<text transform="translate(312.46,33.5) scale(0.9701,1)" class="title">Einkaufsmanagerindex</text>
<text transform="translate(543.89,33.5) scale(0.9961,1)" class="title">verarbeitendes</text>
<text transform="translate(698.14,33.5) scale(1.0149,1)" class="title">Gewerbe</text>
</svg>
<div class="frame"></div>
</body></html>
